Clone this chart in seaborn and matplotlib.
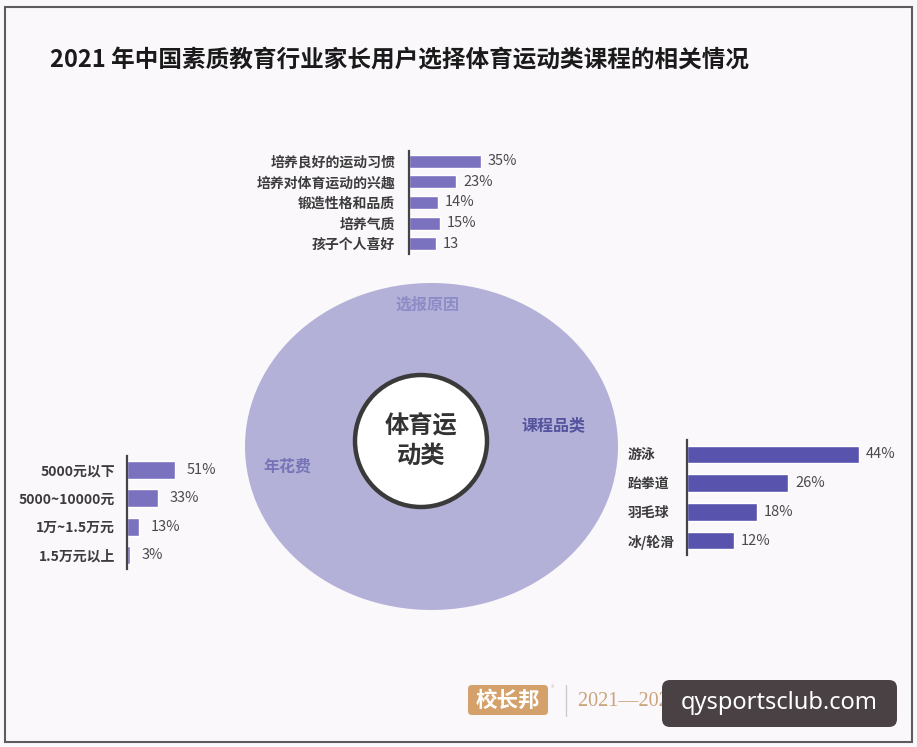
import matplotlib
matplotlib.use("Agg")
import matplotlib.pyplot as plt
import seaborn as sns
from matplotlib.patches import Ellipse, Circle, Rectangle, FancyBboxPatch

# ===== DATA =====
reason_cats = ["培养良好的运动习惯", "培养对体育运动的兴趣", "锻造性格和品质", "培养气质", "孩子个人喜好"]
reason_vals = [35, 23, 14, 15, 13]
reason_labels = ["35%", "23%", "14%", "15%", "13"]

spend_cats = ["5000元以下", "5000~10000元", "1万~1.5万元", "1.5万元以上"]
spend_vals = [51, 33, 13, 3]
spend_labels = ["51%", "33%", "13%", "3%"]

course_cats = ["游泳", "跆拳道", "羽毛球", "冰/轮滑"]
course_vals = [44, 26, 18, 12]
course_labels = ["44%", "26%", "18%", "12%"]

title = "2021 年中国素质教育行业家长用户选择体育运动类课程的相关情况"

# ===== STYLE =====
sns.set_style("white")
plt.rcParams['font.family'] = ['Noto Sans CJK SC', 'DejaVu Sans']
BG = '#fbf8fc'
BAR = '#7a71bf'
BAR_DARK = '#5853ad'
TXT = '#3c3c3c'

W, H = 917, 747
fig = plt.figure(figsize=(W / 100, H / 100), dpi=100, facecolor=BG)


def px_axes(x, y, w, h):
    # pixel box (top-left origin) -> figure axes
    return fig.add_axes([x / W, 1 - (y + h) / H, w / W, h / H])


# background overlay for frame, circle and decorations
deco = px_axes(0, 0, W, H)
deco.set_xlim(0, W)
deco.set_ylim(H, 0)
deco.axis('off')
deco.add_patch(Rectangle((5, 7), 907, 735, fill=False, edgecolor='#5c5c5c', linewidth=1.5))
deco.text(50, 60, title, fontsize=17, fontweight='bold', color='#1a1a1a', va='center', ha='left')

deco.add_patch(Ellipse((431.5, 446.5), 373, 327, facecolor='#b3b1d8', edgecolor='none'))
deco.add_patch(Circle((421, 441), 66, facecolor='white', edgecolor='#3a3a3a', linewidth=3.2))
deco.text(421, 441, "体育运\n动类", fontsize=17.5, fontweight='bold', color='#333333',
          ha='center', va='center', linespacing=1.25)
deco.text(427, 305, "选报原因", fontsize=11.5, fontweight='bold', color='#8d8bc6', ha='center', va='center')
deco.text(553, 425, "课程品类", fontsize=11.5, fontweight='bold', color='#55539e', ha='center', va='center')
deco.text(287, 467, "年花费", fontsize=11.5, fontweight='bold', color='#7674b6', ha='center', va='center')

# footer
deco.add_patch(FancyBboxPatch((468, 685), 80, 30, boxstyle="round,pad=0,rounding_size=4",
                              facecolor='#d4a16b', edgecolor='none'))
deco.text(508, 700, "校长邦", fontsize=15.5, fontweight='bold', color='white', ha='center', va='center')
deco.text(551, 688, "®", fontsize=5, color='#c9b8a8', ha='left', va='center')
deco.plot([566, 566], [685, 716], color='#cccccc', linewidth=1)
deco.text(578, 701, "2021—2022 中国教育培训行业报告", fontsize=14.5, color='#c9a47d',
          ha='left', va='center', family=['Liberation Serif', 'Noto Sans CJK SC'], zorder=2)
deco.add_patch(FancyBboxPatch((662, 680), 235, 47, boxstyle="round,pad=0,rounding_size=8",
                              facecolor='#4a4145', edgecolor='none', zorder=5))
deco.text(779, 703, "qysportsclub.com", fontsize=17, color='white', ha='center', va='center',
          family=['Noto Sans', 'DejaVu Sans'], zorder=6)


# ===== BAR PANELS =====
def bar_panel(ax, cats, vals, labels, color, xmax, pad, width, label_left=False, lab_off=6,
              cat_size=10, cat_weight='bold'):
    sns.barplot(x=vals, y=cats, orient='h', color=color, width=width, saturation=1, ax=ax)
    ax.set_xlim(0, xmax)
    ax.set_ylim(len(cats) - 0.5, -0.5)
    ax.set_facecolor('none')
    for s in ['top', 'right', 'bottom']:
        ax.spines[s].set_visible(False)
    ax.spines['left'].set_color('#444444')
    ax.spines['left'].set_linewidth(1.6)
    ax.set_xticks([])
    ax.set_xlabel('')
    ax.set_ylabel('')
    ax.tick_params(axis='y', length=0, pad=pad, labelsize=cat_size, labelcolor=TXT)
    for t in ax.get_yticklabels():
        t.set_fontweight(cat_weight)
        if label_left:
            t.set_ha('left')
    for i, (v, lab) in enumerate(zip(vals, labels)):
        ax.annotate(lab, (v, i), xytext=(lab_off, 0), textcoords='offset points',
                    ha='left', va='center', fontsize=10.5, color='#4a4a4a')


ax_top = px_axes(409, 151, 50 * 2.06, 103)
bar_panel(ax_top, reason_cats, reason_vals, reason_labels, BAR, 50, 10, 0.63, lab_off=5)

ax_left = px_axes(127, 456, 60 * 0.94, 113)
bar_panel(ax_left, spend_cats, spend_vals, spend_labels, BAR, 60, 8.5, 0.64, lab_off=8.5)

ax_right = px_axes(687, 440, 50 * 3.9, 115)
bar_panel(ax_right, course_cats, course_vals, course_labels, BAR_DARK, 50, 42.5, 0.61,
          label_left=True, lab_off=5)

fig.savefig('out.png', dpi=100, facecolor=BG)
